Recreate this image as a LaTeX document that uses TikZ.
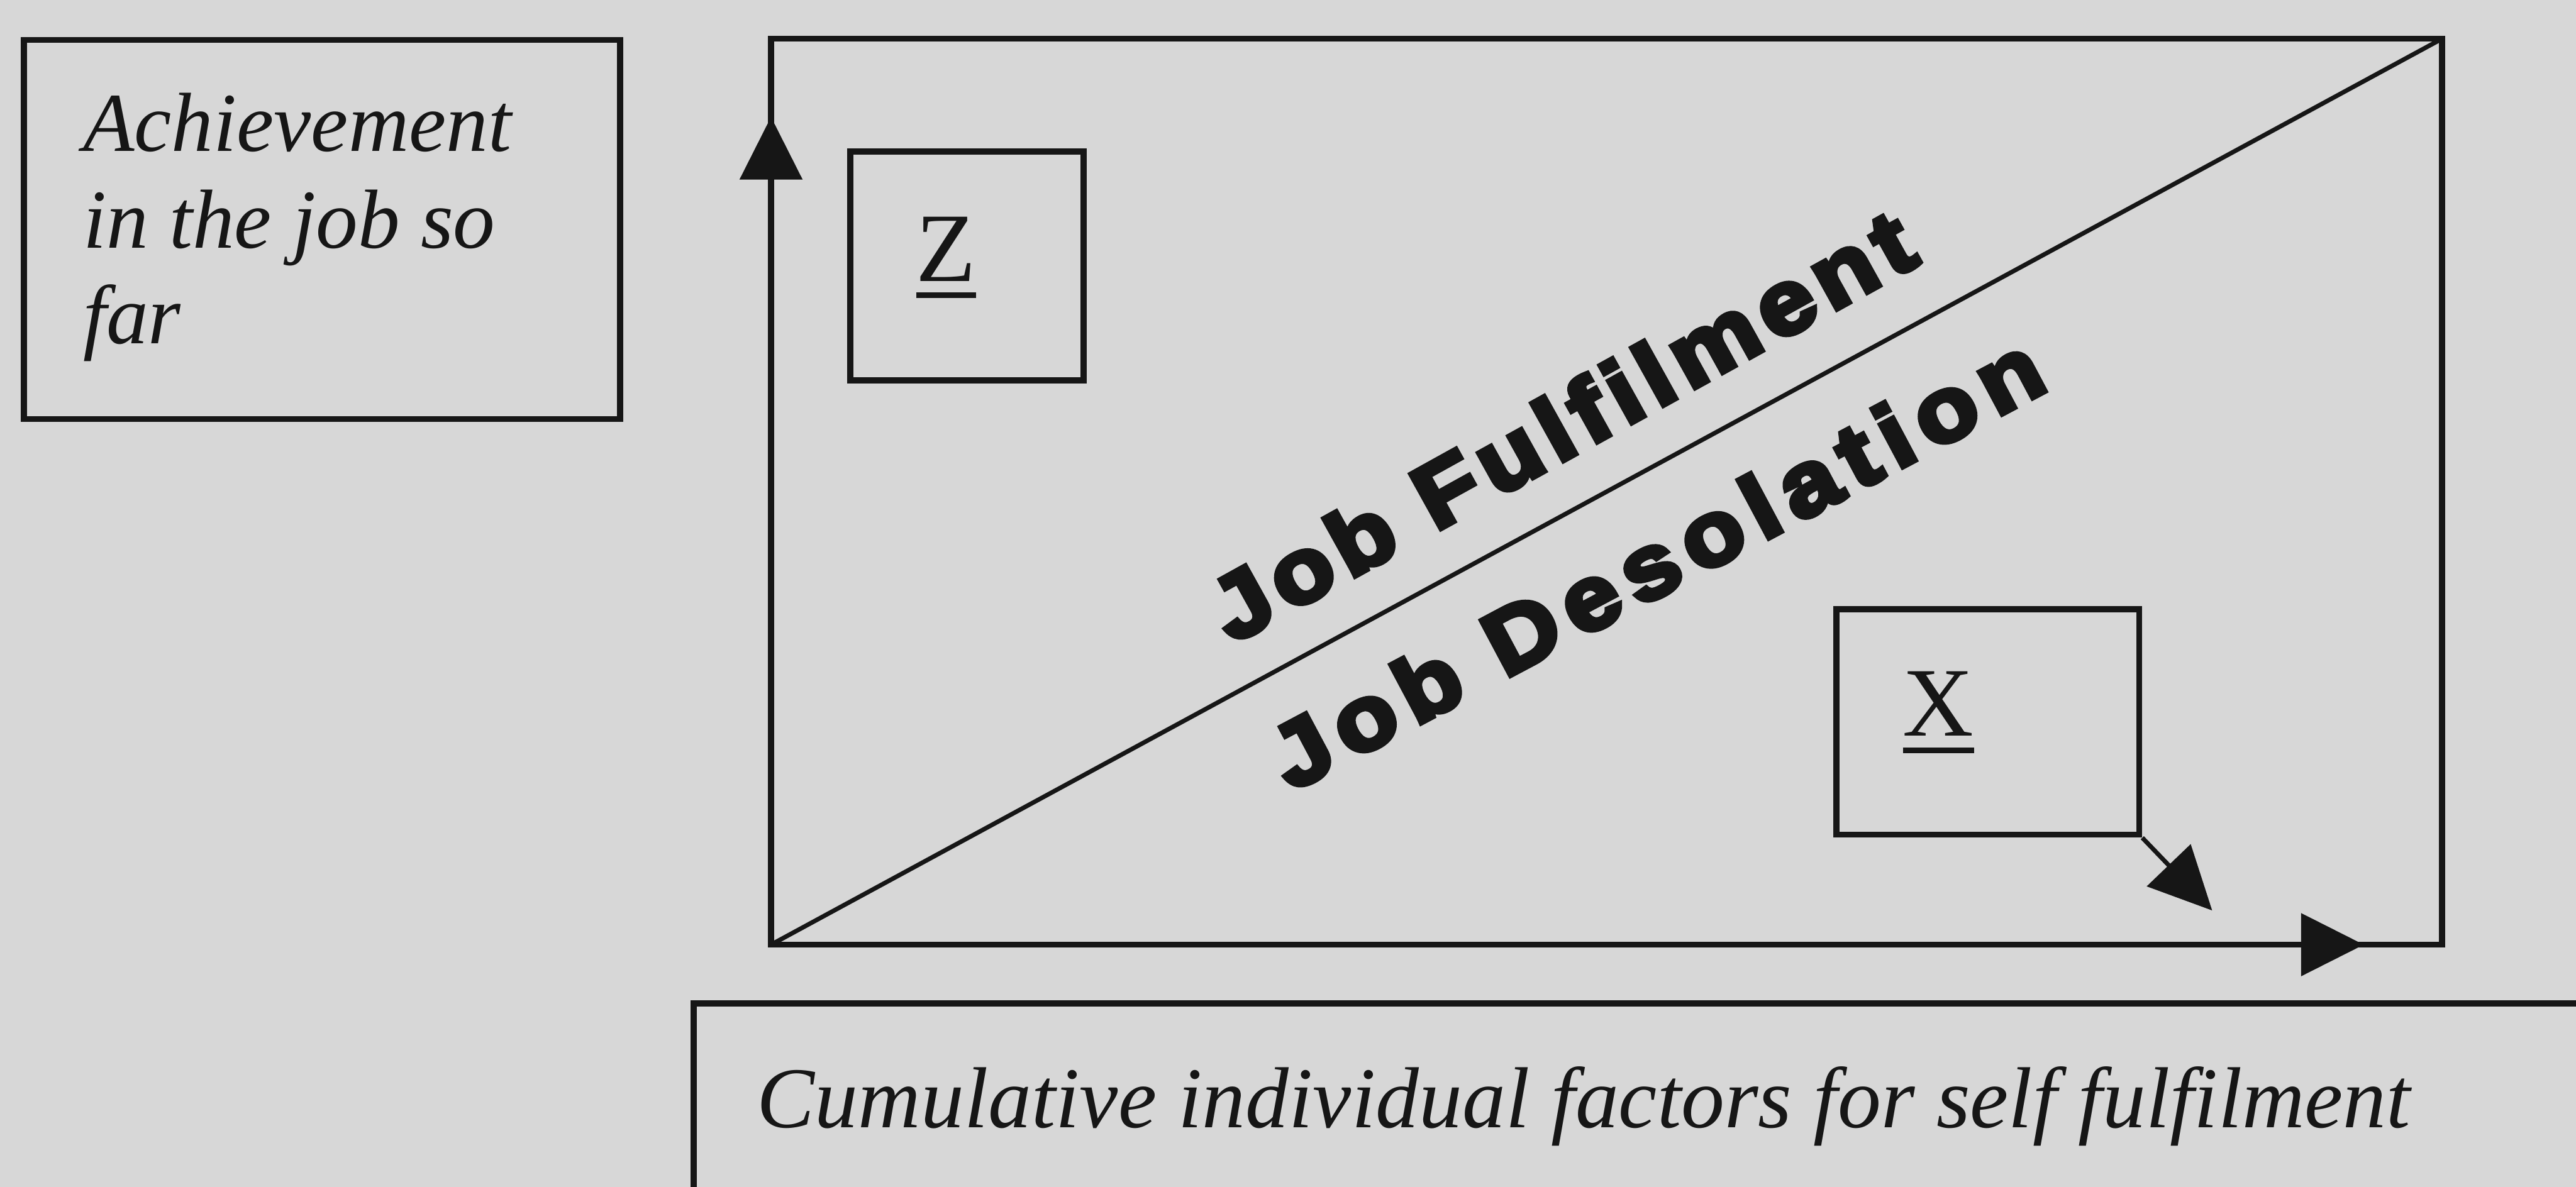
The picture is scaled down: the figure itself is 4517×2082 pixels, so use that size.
\documentclass[tikz,border=0pt]{standalone}
\usepackage{fontspec}
\setmainfont{Liberation Serif}
\newfontfamily\jobfont{Liberation Sans Bold}[FakeBold=6,FakeStretch=1.12,LetterSpace=9]
\newfontfamily\desofont{Liberation Sans Bold}[FakeBold=6,FakeStretch=1.12,LetterSpace=12.5]
\usetikzlibrary{arrows.meta}
\definecolor{paper}{RGB}{215,215,215}
\definecolor{ink}{RGB}{22,22,22}
\newcommand\myul[1]{\setbox0\hbox{#1}\rlap{\vrule width\wd0 height -5.7pt depth 8.5pt}#1}
\begin{document}
\begin{tikzpicture}[x=0.01cm,y=-0.01cm,
  box/.style={draw=ink, line width=3pt, inner sep=0pt},
  frame/.style={draw=ink, line width=3pt},
  arr/.style={draw=ink, line width=3pt, -{Triangle[length=1.1cm,width=1.08cm]}},
  arrb/.style={draw=ink, line width=2.2pt, -{Triangle[length=1.1cm,width=1.05cm]}},
  ital/.style={font=\fontsize{41.8pt}{48pt}\selectfont\itshape, text=ink, inner sep=0pt},
  italb/.style={font=\fontsize{43.2pt}{50pt}\selectfont\itshape, text=ink, inner sep=0pt},
  letter/.style={font=\fontsize{49pt}{56pt}\selectfont, text=ink, inner sep=0pt},
  jobtxt/.style={font=\jobfont\fontsize{45pt}{50pt}\selectfont, text=ink, inner sep=0pt},
  desotxt/.style={font=\desofont\fontsize{45pt}{50pt}\selectfont, text=ink, inner sep=0pt}]
\clip (0,0) rectangle (4517,2082);
\fill[paper] (0,0) rectangle (4517,2082);

% left box
\node[box, minimum width=10.45cm, minimum height=6.65cm] (ach) at (564.5,402.5) {};
\node[ital, anchor=base west] (achA) at (145,265) {Achievement};
\node[ital, anchor=base west] (achB) at (145,435) {in the job so};
\node[ital, anchor=base west] (achC) at (145,603) {far};

% main frame
\coordinate (bl) at (1352,1657);
\coordinate (tr) at (4282,68);
\coordinate (ytip) at (1352,205);
\coordinate (xtip) at (4145,1657);
\draw[frame] (bl) rectangle (tr);
\draw[draw=ink, line width=2.2pt] (bl) -- (tr);
\draw[arr] (bl) -- (ytip);
\draw[arr] (bl) -- (xtip);

% Z box
\node[box, minimum width=4.09cm, minimum height=4.01cm] (zbox) at (1695.5,466.5) {};
\node[letter, anchor=base west] (zlab) at (1606,493) {\myul{Z}};

% X box
\node[box, minimum width=5.31cm, minimum height=3.95cm] (xbox) at (3485.5,1266.5) {};
\node[letter, anchor=base west] (xlab) at (3336,1291) {\myul{X}};
\coordinate (xatip) at (3879,1597);
\draw[arrb] (xbox.south east) -- (xatip);

% diagonal texts
\node[jobtxt, rotate=29, anchor=base] (fulf) at (2765,795) {Job Fulfilment};
\node[desotxt, rotate=28, anchor=base] (deso) at (2930,1035) {Job Desolation};

% bottom box
\node[box, minimum width=40cm, minimum height=6cm, anchor=north west] (cumbox) at (1211,1755) {};
\node[italb, anchor=base west] (cumtext) at (1327,1978) {Cumulative individual factors for self fulfilment};
\end{tikzpicture}
\end{document}
